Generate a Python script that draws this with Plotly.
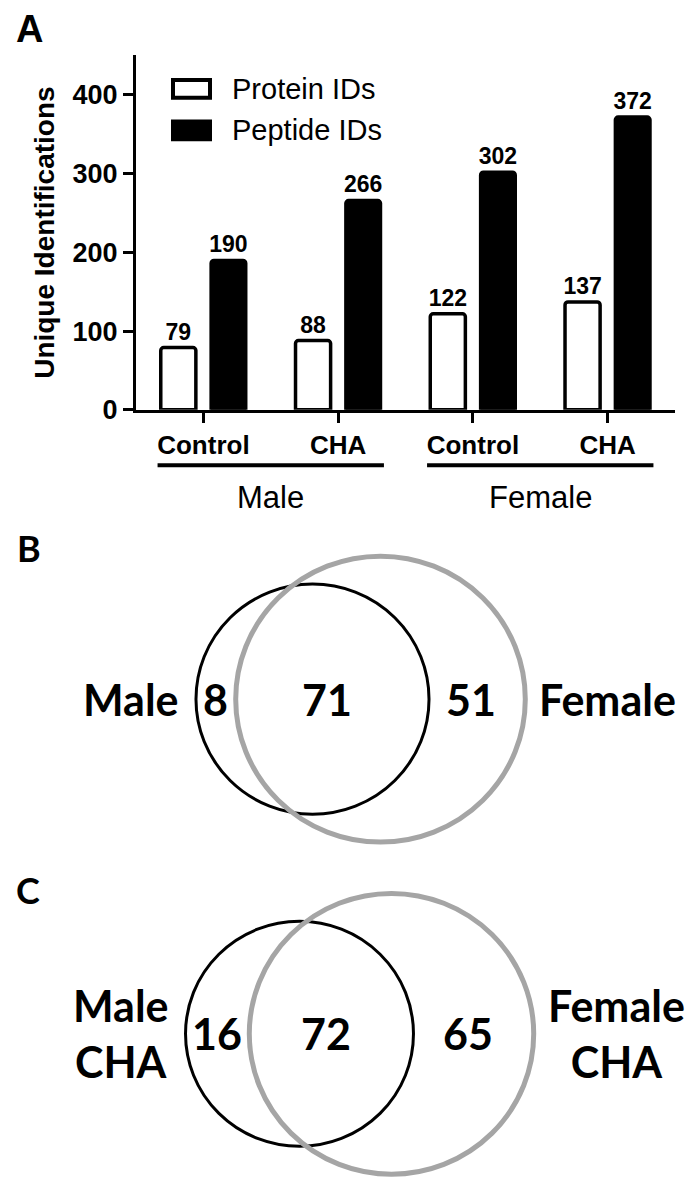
import math
import plotly.graph_objects as go

W, H = 696, 1184

# ------------------------- data -------------------------
conditions = ["Control", "CHA", "Control", "CHA"]
sexes = ["Male", "Female"]
sex_of_condition = ["Male", "Male", "Female", "Female"]
series_names = ["Protein IDs", "Peptide IDs"]
protein_ids = [79, 88, 122, 137]
peptide_ids = [190, 266, 302, 372]
y_ticks = [0, 100, 200, 300, 400]
y_title = "Unique Identifications"

venn_b_sets = ["Male", "Female"]
venn_b_counts = [8, 71, 51]        # left only, shared, right only
venn_c_sets = ["Male<br>CHA", "Female<br>CHA"]
venn_c_counts = [16, 72, 65]
panel_letters = ["A", "B", "C"]

# ------------------------- style / layout -------------------------
ARIAL = "Liberation Sans, Arial, Helvetica, sans-serif"
CALIBRI = "Lato, Carlito, Calibri, sans-serif"
GRAY = "#a5a5a5"


def py(p):
    """pixel row -> paper y"""
    return 1 - p / H


xs = list(range(len(conditions)))

fig = go.Figure()

bar_common = dict(
    textposition="outside",
    textfont=dict(family=ARIAL, size=23, color="black", weight="bold"),
    constraintext="none",
    cliponaxis=False,
    showlegend=False,
    hoverinfo="skip",
)
fig.add_bar(
    x=xs, y=protein_ids, name=series_names[0], text=protein_ids,
    marker=dict(color="white", line=dict(color="black", width=3.5), cornerradius=3),
    **bar_common,
)
fig.add_bar(
    x=xs, y=peptide_ids, name=series_names[1], text=peptide_ids,
    marker=dict(color="black", line=dict(color="black", width=3), cornerradius=3),
    **bar_common,
)

# invisible canvas axes (pixel units) for Venn diagrams, legend swatches, letters
fig.add_scatter(x=[], y=[], xaxis="x2", yaxis="y2", showlegend=False)

shapes = []
annotations = []

# --- group underlines and labels for the bar chart ---
group_ext = 0.34
for s in sexes:
    idx = [i for i, v in enumerate(sex_of_condition) if v == s]
    x0, x1 = min(idx) - group_ext, max(idx) + group_ext
    shapes.append(dict(type="line", xref="x", yref="paper", x0=x0, x1=x1,
                       y0=py(463), y1=py(463), line=dict(color="black", width=4)))
    annotations.append(dict(xref="x", yref="paper", x=(min(idx) + max(idx)) / 2, y=py(496),
                            text=s, showarrow=False, xanchor="center", yanchor="middle",
                            font=dict(family=ARIAL, size=31, color="black")))

# --- legend swatches ---
legend_rows = [(series_names[0], "white", 82), (series_names[1], "black", 124)]
for name, fill, cy in legend_rows:
    shapes.append(dict(type="rect", xref="x2", yref="y2", x0=165, x1=202, y0=cy - 9, y1=cy + 9,
                       fillcolor=fill, line=dict(color="black", width=4), layer="above"))
    annotations.append(dict(xref="x2", yref="y2", x=222, y=cy, text=name, showarrow=False,
                            xanchor="left", yanchor="middle",
                            font=dict(family=ARIAL, size=29, color="black")))


# --- Venn diagrams (area-proportional radii) ---
def venn(counts, sets, scale, cx_left, cx_right, cy):
    n_left = counts[0] + counts[1]
    n_right = counts[1] + counts[2]
    r1 = scale * math.sqrt(n_left)
    r2 = scale * math.sqrt(n_right)
    shapes.append(dict(type="circle", xref="x2", yref="y2",
                       x0=cx_left - r1, x1=cx_left + r1, y0=cy - r1, y1=cy + r1,
                       line=dict(color="black", width=3), layer="above"))
    shapes.append(dict(type="circle", xref="x2", yref="y2",
                       x0=cx_right - r2, x1=cx_right + r2, y0=cy - r2, y1=cy + r2,
                       line=dict(color=GRAY, width=5), layer="above"))
    l_outer, l_inner = cx_left - r1, cx_right - r2
    r_inner, r_outer = cx_left + r1, cx_right + r2
    pos = [(l_outer + l_inner) / 2, (l_inner + r_inner) / 2 - 5, (r_inner + r_outer) / 2 - 6]
    for c, x in zip(counts, pos):
        annotations.append(dict(xref="x2", yref="y2", x=x, y=cy, text=str(c), showarrow=False,
                                xanchor="center", yanchor="middle",
                                font=dict(family=CALIBRI, size=43, color="black", weight="bold")))
    annotations.append(dict(xref="x2", yref="y2", x=l_outer - 15, y=cy, text=sets[0],
                            showarrow=False, xanchor="right", yanchor="middle", align="center",
                            font=dict(family=CALIBRI, size=43, color="black", weight="bold")))
    annotations.append(dict(xref="x2", yref="y2", x=r_outer + 12, y=cy, text=sets[1],
                            showarrow=False, xanchor="left", yanchor="middle", align="center",
                            font=dict(family=CALIBRI, size=43, color="black", weight="bold")))


venn(venn_b_counts, venn_b_sets, 13.11, 304.5, 372.5, 700)
venn(venn_c_counts, venn_c_sets, 12.15, 291.5, 383.5, 1039)

# --- panel letters ---
letter_pos = [(21, 21, ARIAL, 38), (21, 547, CALIBRI, 36), (20, 893, CALIBRI, 36)]
for letter, (x, y, fam, sz) in zip(panel_letters, letter_pos):
    annotations.append(dict(xref="x2", yref="y2", x=x, y=y, text=letter, showarrow=False,
                            xanchor="center", yanchor="middle",
                            font=dict(family=fam, size=sz, color="black", weight="bold")))

fig.update_layout(
    width=W, height=H,
    margin=dict(l=0, r=0, t=0, b=0),
    paper_bgcolor="white", plot_bgcolor="rgba(0,0,0,0)",
    barmode="group", bargap=0.256, bargroupgap=0.30,
    showlegend=False,
    xaxis=dict(
        domain=[128 / W, 667 / W], range=[-0.5, 3.5],
        tickmode="array", tickvals=xs, ticktext=conditions,
        showline=True, linecolor="black", linewidth=3,
        ticks="outside", ticklen=10, tickwidth=3, tickcolor="black",
        tickfont=dict(family=ARIAL, size=26, color="black", weight="bold"),
        showgrid=False, zeroline=False, fixedrange=True, anchor="y",
    ),
    yaxis=dict(
        domain=[py(407), py(48)], range=[0, 450],
        tickmode="array", tickvals=y_ticks,
        showline=True, linecolor="black", linewidth=3,
        ticks="outside", ticklen=10, tickwidth=3, tickcolor="black",
        tickfont=dict(family=ARIAL, size=27, color="black", weight="bold"),
        title=dict(text=y_title, standoff=10,
                   font=dict(family=ARIAL, size=28, color="black", weight="bold")),
        showgrid=False, zeroline=False, fixedrange=True, anchor="x",
    ),
    xaxis2=dict(domain=[0, 1], range=[0, W], visible=False, anchor="y2", fixedrange=True),
    yaxis2=dict(domain=[0, 1], range=[H, 0], visible=False, anchor="x2", fixedrange=True),
    shapes=shapes,
    annotations=annotations,
)

fig.write_html("out.html")
